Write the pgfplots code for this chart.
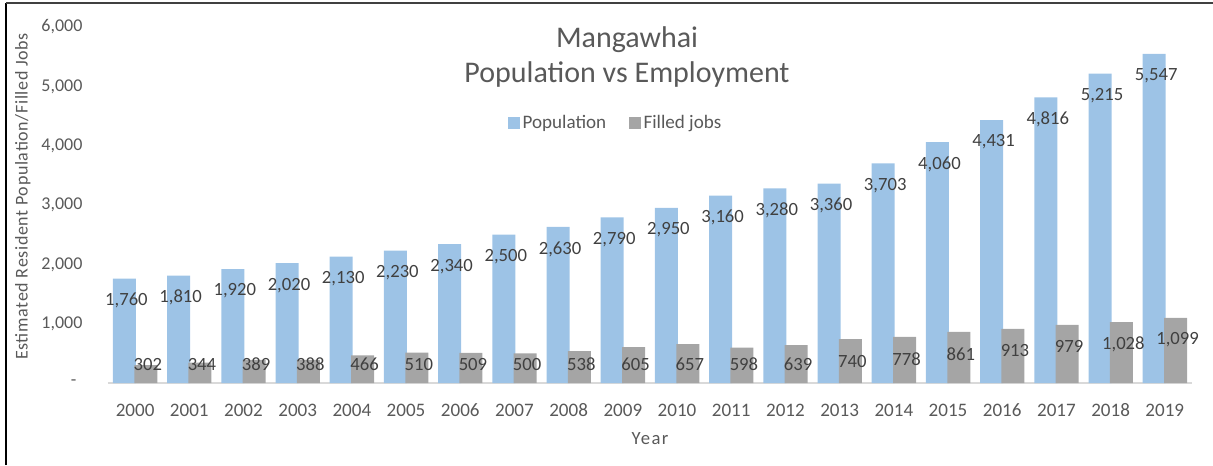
\documentclass[border=0pt]{standalone}
\usepackage{fontspec}
\setmainfont{Carlito}
\usepackage{pgfplots}
\pgfplotsset{compat=1.18}
\usepackage{pgfplotstable}
\definecolor{popblue}{HTML}{9DC3E6}
\definecolor{jobgray}{HTML}{A5A5A5}
\definecolor{txt}{HTML}{595959}
\definecolor{lbl}{HTML}{404040}
\pgfplotstableread{
x pop jobs
2000 1760 302
2001 1810 344
2002 1920 389
2003 2020 388
2004 2130 466
2005 2230 510
2006 2340 509
2007 2500 500
2008 2630 538
2009 2790 605
2010 2950 657
2011 3160 598
2012 3280 639
2013 3360 740
2014 3703 778
2015 4060 861
2016 4431 913
2017 4816 979
2018 5215 1028
2019 5547 1099
}\data
\begin{document}
\begin{tikzpicture}
\useasboundingbox (0,0) rectangle (909.75pt,348.75pt);
\begin{axis}[
  at={(81pt,61.5pt)}, anchor=south west,
  scale only axis, width=813pt, height=267pt,
  ybar, bar width=17.25pt,
  xmin=1999.5, xmax=2019.5, ymin=0, ymax=6000,
  enlargelimits=false,
  axis x line=bottom, axis y line=left,
  x axis line style={draw=black!15, line width=1.1pt, -},
  y axis line style={draw=none},
  major tick length=0pt,
  xtick={2000,...,2019},
  xticklabels={2000,2001,2002,2003,2004,2005,2006,2007,2008,2009,2010,2011,2012,2013,2014,2015,2016,2017,2018,2019},
  ytick={0,1000,2000,3000,4000,5000,6000},
  yticklabels={{-\hspace*{4.5pt}},{1,000},{2,000},{3,000},{4,000},{5,000},{6,000}},
  xticklabel style={anchor=center, yshift=-20.25pt, font=\fontsize{14.3}{16}\selectfont, text=txt},
  yticklabel style={anchor=east, inner sep=0pt, xshift=-19pt, font=\fontsize{13.5}{16}\selectfont, text=txt},
  /pgf/number format/assume math mode=true,
  /pgf/number format/1000 sep={,},
  xlabel={\addfontfeature{LetterSpace=8}Year},
  xlabel style={at={(axis description cs:0.5,-0.157)}, anchor=center, font=\fontsize{14}{16}\selectfont, text=txt},
  ylabel={\addfontfeature{LetterSpace=3.5}Estimated Resident Population/Filled Jobs},
  ylabel style={at={(axis description cs:-0.0785,0.524)}, anchor=center, font=\fontsize{13.5}{16}\selectfont, text=txt},
  title={Mangawhai\\Population vs Employment},
  title style={at={(axis description cs:0.4788,0.894)}, anchor=center, align=center, font=\fontsize{22.5}{26.25}\selectfont, text=txt},
  legend columns=2,
  legend style={at={(axis description cs:0.4686,0.731)}, anchor=center, draw=none, fill=none,
    font=\fontsize{14.3}{16}\selectfont, text=txt,
    /tikz/every even column/.append style={column sep=15pt}},
  legend image code/.code={\fill[#1] (0pt,-4.5pt) rectangle (9pt,4.5pt);},
  lab/.style={forget plot, draw=none, fill=none, nodes near coords, point meta=explicit,
    every node near coord/.append style={anchor=center, xshift=1.5pt,
      font=\fontsize{14}{16}\selectfont, text=lbl}},
]
\addlegendimage{fill=popblue, draw=none}
\addlegendentry{Population}
\addlegendimage{fill=jobgray, draw=none}
\addlegendentry{Filled jobs}
\addplot[forget plot, fill=popblue, draw=none, bar shift=-8pt]
  table[x=x, y=pop]{\data};
\addplot[forget plot, fill=jobgray, draw=none, bar shift=8pt]
  table[x=x, y=jobs]{\data};
% data labels: inside end of each bar (371 units below the top), never lower than 320
\addplot[lab, bar shift=-8pt]
  table[x=x, y expr={max(\thisrow{pop}-371,320)}, meta=pop]{\data};
\addplot[lab, bar shift=8pt]
  table[x=x, y expr={max(\thisrow{jobs}-371,320)}, meta=jobs]{\data};
\end{axis}
\draw[black, line width=1.1pt] (4.6pt,0) -- (4.6pt,346.5pt);
\draw[black!75, line width=1.1pt] (4.6pt,346.5pt) -- (909.75pt,346.5pt);
\end{tikzpicture}
\end{document}
